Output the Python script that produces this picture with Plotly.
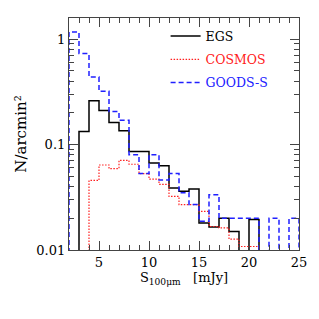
import plotly.graph_objects as go

# bin edges start and per-bin values (N/arcmin^2), bins of 1 mJy
egs_start = 3
egs_vals = [0.133, 0.26, 0.21, 0.162, 0.135, 0.086, 0.086, 0.067, 0.063, 0.0387,
            0.036, 0.0379, 0.018, 0.0165, 0.02, 0.015, 0.0, 0.0195]
cosmos_start = 4
cosmos_vals = [0.0457, 0.064, 0.059, 0.0707, 0.065, 0.053, 0.047, 0.042, 0.0322,
               0.0269, 0.0269, 0.0232, 0.0167, 0.0162, 0.0127, 0.0108, 0.0108]
goods_start = 2
goods_vals = [1.17, 0.73, 0.436, 0.32, 0.206, 0.17, 0.080, 0.053, 0.080, 0.046,
              0.053, 0.035, 0.027, 0.0187, 0.0334, 0.02, 0.02, 0.02, 0.02, 0.0,
              0.02, 0.0, 0.02]

x_ticks = [5, 10, 15, 20, 25]
y_ticks = [0.01, 0.1, 1]
y_tick_text = ["0.01", "0.1", "1"]

FLOOR = 1e-4


def steps(start, vals):
    edges = [start + i for i in range(len(vals) + 1)]
    ys = [v if v > 0 else FLOOR for v in vals]
    xs = [edges[0]] + edges[:-1] + [edges[-1]]
    yy = [FLOOR] + ys + [FLOOR]
    return xs, yy


fig = go.Figure()
series = [
    ("EGS", egs_start, egs_vals, "black", "solid", 1.5),
    ("COSMOS", cosmos_start, cosmos_vals, "#ff2020", "1.5px,1.5px", 1.2),
    ("GOODS-S", goods_start, goods_vals, "#2020ff", "5px,3px", 1.5),
]
for name, st, vals, col, dash, w in series:
    xs, ys = steps(st, vals)
    fig.add_trace(go.Scatter(
        x=xs, y=ys, mode="lines", line_shape="hv",
        line=dict(color=col, dash=dash, width=w),
        name=f"<span style='color:{col}'>{name}</span>",
        legendgroup=name,
    ))

minor_y = [m * 10 ** e for e in (-2, -1, 0) for m in range(2, 10)]

fig.update_layout(
    width=319, height=319,
    margin=dict(l=69, r=17, t=18, b=69),
    paper_bgcolor="white", plot_bgcolor="white",
    font=dict(family="DejaVu Serif", size=13, color="black"),
    showlegend=True,
    legend=dict(x=0.42, y=0.985, xanchor="left", yanchor="top",
                bgcolor="rgba(0,0,0,0)", font=dict(size=12.5),
                itemwidth=30, tracegroupgap=4),
    xaxis=dict(
        range=[2, 25], showgrid=False, zeroline=False,
        showline=True, linecolor="#444", linewidth=1.2, mirror="allticks",
        ticks="inside", ticklen=9, tickcolor="#444",
        tickvals=x_ticks,
        minor=dict(ticks="inside", dtick=1, tick0=0, ticklen=4.5, tickcolor="#444", showgrid=False),
        title=dict(text="S<sub>100μm</sub>   [mJy]", standoff=4, font=dict(size=13)),
    ),
    yaxis=dict(
        type="log", range=[-2, 0.2], showgrid=False, zeroline=False,
        showline=True, linecolor="#444", linewidth=1.2, mirror="allticks",
        ticks="inside", ticklen=9, tickcolor="#444",
        tickvals=y_ticks, ticktext=y_tick_text,
        minor=dict(ticks="inside", tickvals=minor_y, ticklen=4.5, tickcolor="#444", showgrid=False),
        title=dict(text="N/arcmin²", standoff=6, font=dict(size=15)),
    ),
)

fig.write_html("out.html", config={"displayModeBar": False},
               post_script="document.body.style.margin='0';")
